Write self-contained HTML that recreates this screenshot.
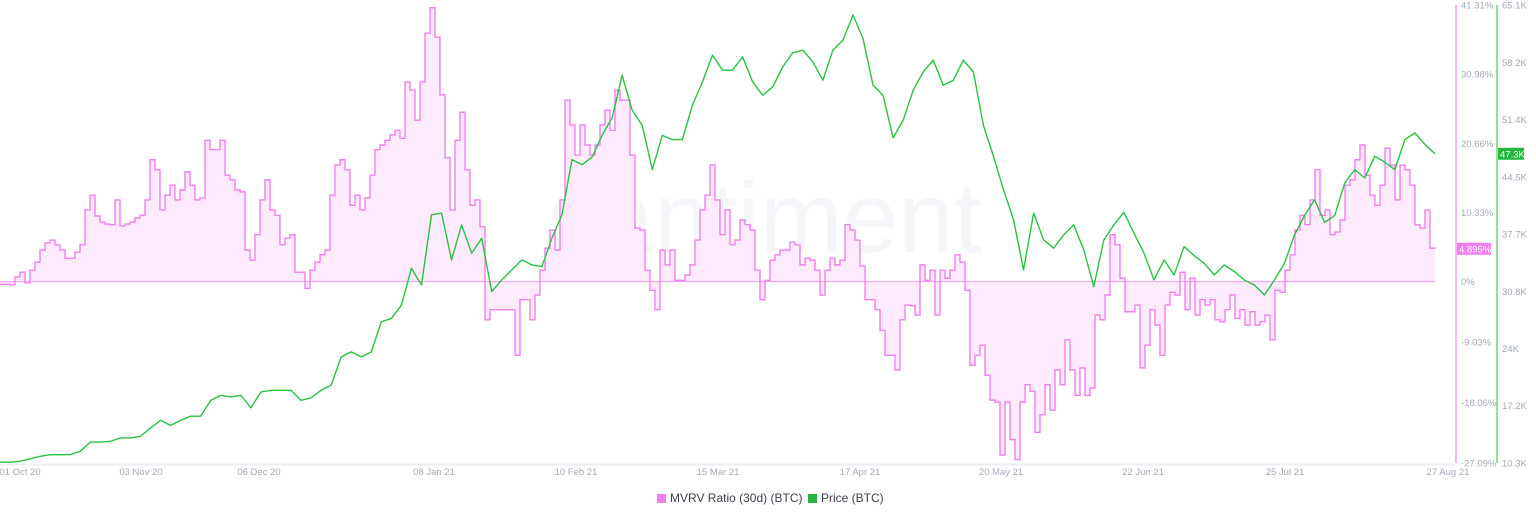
<!DOCTYPE html>
<html><head><meta charset="utf-8">
<style>
body{margin:0;background:#fff;width:1536px;height:520px;overflow:hidden;font-family:"Liberation Sans",sans-serif}
svg{display:block}
</style></head>
<body>
<svg id="chart" width="1536" height="520" viewBox="0 0 1536 520" xmlns="http://www.w3.org/2000/svg">
<text x="765" y="252" font-size="100" fill="#f5f6f9" text-anchor="middle" font-family="Liberation Sans, sans-serif">santiment</text>
<g id="plot"></g>
<g id="axes"></g>
<g>
<rect x="657" y="494" width="9" height="9" fill="#f07ef0"/>
<text x="670" y="502" font-size="12" fill="#3a3f4b">MVRV Ratio (30d) (BTC)</text>
<rect x="808" y="494" width="9" height="9" fill="#26b340"/>
<text x="821" y="502" font-size="12" fill="#3a3f4b">Price (BTC)</text>
</g>
</svg>
<script>
const xTickLabels=["01 Oct 20","03 Nov 20","06 Dec 20","08 Jan 21","10 Feb 21","15 Mar 21","17 Apr 21","20 May 21","22 Jun 21","25 Jul 21","27 Aug 21"];
const mvrvTicks=[41.31,30.98,20.66,10.33,0,-9.03,-18.06,-27.09];
const mvrvTickLabels=["41.31%","30.98%","20.66%","10.33%","0%","-9.03%","-18.06%","-27.09%"];
const priceTicks=[65.1,58.2,51.4,44.5,37.7,30.8,24,17.2,10.3];
const priceTickLabels=["65.1K","58.2K","51.4K","44.5K","37.7K","30.8K","24K","17.2K","10.3K"];
const mvrvValues=[-0.4,-0.4,-0.5,0.7,1.4,-0.2,1.7,2.9,4.7,5.8,6.2,5.5,4.7,3.5,3.5,4.4,5.5,10.7,12.9,9.8,
8.9,8.6,8.5,12.2,8.3,8.6,8.9,9.5,9.9,12.2,18.2,16.7,10.7,12.9,14.4,12.2,13.7,16.4,14.4,12.2,
12.5,21.1,19.7,19.7,21.1,15.9,15.2,13.7,13.4,4.7,3.2,7.0,12.2,15.2,10.7,9.9,5.5,6.5,7.0,1.4,
1.4,-1.0,1.7,2.9,4.0,4.7,12.9,17.4,18.2,16.7,11.4,12.9,10.7,12.5,15.9,19.7,20.4,21.1,21.9,22.6,
21.4,29.8,28.6,24.1,29.8,37.1,40.9,36.5,27.9,18.5,10.7,21.1,25.3,16.7,11.4,12.2,8.2,-5.7,-4.2,-4.2,
-4.2,-4.2,-4.2,-11.0,-2.7,-2.7,-5.7,-2.0,1.7,5.0,7.7,4.7,12.2,27.1,23.4,18.9,23.4,20.4,18.9,20.4,
23.4,25.6,22.6,28.6,27.1,27.1,18.9,8.0,7.7,1.7,-1.3,-4.2,4.7,2.5,4.7,0.2,0.2,1.0,2.5,6.2,
10.7,12.9,17.4,12.2,7.0,10.7,5.5,6.2,9.2,8.5,7.7,1.7,-2.7,0.2,3.2,4.0,4.7,4.7,5.9,5.5,
2.5,3.5,3.2,1.7,-2.0,1.7,3.5,2.5,3.2,8.5,7.7,6.2,2.3,-2.7,-2.7,-4.2,-7.3,-11.0,-11.0,-13.2,
-5.7,-3.5,-3.6,-5.0,2.5,0.2,1.7,-5.0,1.7,0.5,1.7,4.0,2.9,-1.3,-12.5,-11.0,-9.5,-14.0,-17.7,-18.0,
-25.9,-18.0,-23.6,-26.6,-18.0,-15.4,-16.4,-22.5,-19.9,-15.4,-19.2,-13.2,-15.4,-8.7,-13.2,-17.0,-12.9,-17.0,-15.9,-5.0,
-5.7,-2.0,7.0,5.5,0.5,-4.5,-4.5,-3.5,-12.9,-9.5,-4.2,-6.5,-11.0,-3.5,-1.6,-2.0,1.4,-4.2,0.5,-5.0,
-2.7,-3.5,-2.7,-5.7,-6.0,-4.2,-2.0,-5.5,-4.2,-6.5,-4.5,-6.5,-6.0,-5.0,-8.7,-1.3,-1.6,1.7,4.0,7.7,
9.9,8.5,12.2,16.7,9.9,10.7,7.0,7.4,9.2,14.4,15.2,18.2,20.4,15.9,12.9,11.4,14.4,19.9,17.4,12.2,
17.4,16.7,14.4,8.5,8.0,10.7,5.0,4.9];
const priceValues=[10.4,10.4,10.5,10.8,11.1,11.3,11.3,11.3,11.7,12.8,12.8,12.9,13.3,13.3,13.5,14.5,15.4,14.8,15.4,15.9,
15.9,17.8,18.4,18.2,18.4,16.9,18.8,19.0,19.0,19.0,17.8,18.1,19.0,19.6,23.0,23.6,23.0,23.6,27.2,27.6,
29.2,33.6,31.6,40.0,40.2,34.6,38.8,35.4,37.2,30.8,32.2,33.4,34.6,34.0,33.8,37.2,40.0,46.6,46.0,46.9,
49.5,51.6,56.7,52.5,50.7,45.4,49.5,49.0,49.0,53.1,55.9,59.1,57.3,57.3,58.9,55.9,54.3,55.3,57.7,59.4,
59.7,58.3,56.1,59.7,60.9,63.9,61.1,55.5,54.3,49.2,51.3,54.9,57.1,58.5,55.5,56.1,58.5,57.1,50.7,47.0,
43.0,39.4,33.4,40.2,37.0,36.0,37.6,38.8,35.8,31.4,37.0,38.8,40.3,37.8,35.4,32.2,34.6,32.8,36.2,35.1,
34.2,32.8,34.0,33.2,32.2,31.6,30.4,32.2,34.2,37.6,39.9,41.8,39.1,39.9,43.8,45.4,44.4,47.0,46.3,45.4,
49.0,49.8,48.4,47.3];
const X0=0,X1=1435,Y0=5,Y1=463;
const mvrvMin=-27.09,mvrvMax=41.31,priceMin=10.3,priceMax=65.1;
function xs(i,n){return X0+(X1-X0)*i/(n-1);}
function ym(v){return Y1-(v-mvrvMin)/(mvrvMax-mvrvMin)*(Y1-Y0);}
function yp(v){return Y1-(v-priceMin)/(priceMax-priceMin)*(Y1-Y0);}
const NS="http://www.w3.org/2000/svg";
function mk(tag,attrs,parent){const e=document.createElementNS(NS,tag);for(const k in attrs)e.setAttribute(k,attrs[k]);parent.appendChild(e);return e;}
const plot=document.getElementById('plot'),axes=document.getElementById('axes');
const base=mk('line',{x1:0,x2:1455,y1:464.5,y2:464.5,stroke:'#eceef3','stroke-width':2},axes);


const n=mvrvValues.length,y0=ym(0);
let d='',fd='M'+xs(0,n)+','+y0;
for(let i=0;i<n;i++){const x=xs(i,n),y=ym(mvrvValues[i]);
 if(i===0){d='M'+x+','+y;fd+=' L'+x+','+y;}else{const yPrev=ym(mvrvValues[i-1]);d+=' L'+x+','+yPrev+' L'+x+','+y;fd+=' L'+x+','+yPrev+' L'+x+','+y;}}
fd+=' L'+X1+','+y0+' Z';
const area=mk('path',{d:fd,fill:'#fdeafc',stroke:'none'},plot);


const zl=mk('line',{x1:0,x2:X1,y1:y0,y2:y0,stroke:'#f39af0','stroke-width':1},plot);


const ml=mk('path',{d:d,fill:'none',stroke:'#f27ff0','stroke-width':1.4},plot);


const m=priceValues.length;let pd='';
for(let i=0;i<m;i++){pd+=(i?' L':'M')+xs(i,m)+','+yp(priceValues[i]);}
const pl=mk('path',{d:pd,fill:'none',stroke:'#27c341','stroke-width':1.4,'stroke-linejoin':'round'},plot);


const ma=mk('line',{x1:1456,x2:1456,y1:Y0,y2:Y1,stroke:'#f6b6f2','stroke-width':2},axes);


const pa=mk('line',{x1:1497,x2:1497,y1:Y0,y2:Y1,stroke:'#93dfa0','stroke-width':2},axes);


mvrvTicks.forEach((v,i)=>{const t=mk('text',{x:1461,y:ym(v)+3.5,'font-size':9.5,fill:'#a3aab9'},axes);t.textContent=mvrvTickLabels[i];
 
 });
priceTicks.forEach((v,i)=>{const t=mk('text',{x:1502,y:yp(v)+3.5,'font-size':9.5,fill:'#a3aab9'},axes);t.textContent=priceTickLabels[i];
 
 });
const xPos=[20,141,259,434,576,718,860,1001,1143,1285,1448];
xTickLabels.forEach((s,i)=>{const t=mk('text',{x:xPos[i],y:475,'font-size':9.5,fill:'#a3aab9','text-anchor':'middle'},axes);t.textContent=s;
 
 });
const lm=mvrvValues[n-1],lp=priceValues[m-1];
const b1=mk('rect',{x:1457,y:ym(lm)-6,width:34,height:12,fill:'#f07ef0'},axes);


const t1=mk('text',{x:1459,y:ym(lm)+3.5,'font-size':9.5,fill:'#fff'},axes);t1.textContent='4.895%';


const b2=mk('rect',{x:1498,y:yp(lp)-6,width:26,height:12,fill:'#21b83d'},axes);


const t2=mk('text',{x:1500,y:yp(lp)+3.5,'font-size':9.5,fill:'#fff'},axes);t2.textContent='47.3K';


</script>
</body></html>
